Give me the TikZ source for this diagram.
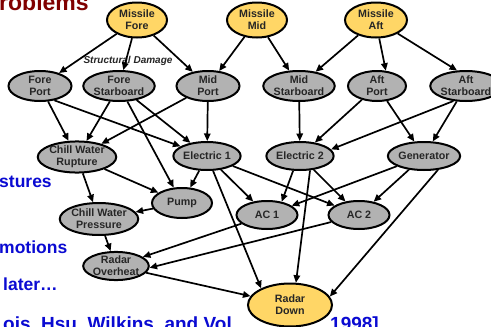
\documentclass[tikz,border=0pt]{standalone}
\usepackage{fontspec}
\setmainfont{Liberation Sans}
\usetikzlibrary{shapes.geometric,arrows.meta}
\definecolor{nodegray}{RGB}{178,178,178}
\definecolor{nodeyel}{RGB}{255,214,102}
\definecolor{slideblue}{RGB}{10,10,210}
\definecolor{slidered}{RGB}{128,0,0}
\begin{document}
\begin{tikzpicture}[x=1pt,y=-1pt,
  ev/.style={ellipse,draw=black,line width=2pt,inner sep=0pt,align=center,
    font=\fontsize{10.7}{12}\selectfont\bfseries,text=black!85},
  gnode/.style={ev,fill=nodegray},
  ynode/.style={ev,fill=nodeyel},
  arr/.style={line width=1.7pt,-{Triangle[length=7.5pt,width=6.5pt]}},
  slide/.style={anchor=base west,inner sep=0pt,font=\fontsize{17.5}{18}\selectfont\bfseries,text=slideblue},
]
\useasboundingbox (0,0) rectangle (491,327);
\clip (0,0) rectangle (491,327);
\fill[white] (0,0) rectangle (491,327);

% slide texts
\node[anchor=base west,inner sep=0pt,font=\fontsize{23}{23}\selectfont\bfseries,text=slidered] (title) at (-1,10) {roblems};
\node[slide] (t1) at (-1,187) {stures};
\node[slide] (t2) at (-1,253) {motions};
\node[slide] (t3) at (3,290) {later…};
\node[slide,font=\fontsize{19}{19}\selectfont\bfseries] (t4) at (3,330) {ois, Hsu, Wilkins, and Vol};
\node[slide,anchor=base east,font=\fontsize{19}{19}\selectfont\bfseries] (t5) at (379,330) {, 1998]};

\node[inner sep=0pt,font=\fontsize{10}{10}\selectfont\bfseries\itshape,text=black!85] (sd) at (128,61) {Structural Damage};

% nodes
\node[ynode,minimum width=60,minimum height=35] (MF) at (137,20) {Missile\\Fore};
\node[ynode,minimum width=60,minimum height=35] (MM) at (257,20) {Missile\\Mid};
\node[ynode,minimum width=62,minimum height=35] (MA) at (376,20) {Missile\\Aft};

\node[gnode,minimum width=63,minimum height=30] (FP) at (40,86) {Fore\\Port};
\node[gnode,minimum width=58,minimum height=30] (FS) at (119,86) {Fore\\Starboard};
\node[gnode,minimum width=63,minimum height=30] (MP) at (208,86) {Mid\\Port};
\node[gnode,minimum width=60,minimum height=30] (MS) at (299,86) {Mid\\Starboard};
\node[gnode,minimum width=58,minimum height=30] (AP) at (377,86) {Aft\\Port};
\node[gnode,minimum width=60,minimum height=30] (AS) at (466,86) {Aft\\Starboard};

\node[gnode,minimum width=61,minimum height=29] (CWR) at (77,157) {Chill Water\\Rupture};
\node[gnode,minimum width=62,minimum height=28] (E1) at (207,156) {Electric 1};
\node[gnode,minimum width=63,minimum height=28] (E2) at (300,156) {Electric 2};
\node[gnode,minimum width=60,minimum height=28] (GEN) at (424,156) {Generator};

\node[gnode,minimum width=60,minimum height=30] (PUMP) at (182,203) {Pump};
\node[gnode,minimum width=61,minimum height=28] (AC1) at (267,215) {AC 1};
\node[gnode,minimum width=61,minimum height=28] (AC2) at (359,215) {AC 2};
\node[gnode,minimum width=62,minimum height=32] (CWP) at (99,219) {Chill Water\\Pressure};
\node[gnode,minimum width=62,minimum height=28] (RO) at (116,266) {Radar\\Overheat};
\node[ynode,minimum width=84,minimum height=43] (RD) at (290,305) {Radar\\Down};

% edges
\draw[arr] (MF) -- (FP);
\draw[arr] (MF) -- (FS);
\draw[arr] (MF) -- (MP);
\draw[arr] (MM) -- (MP);
\draw[arr] (MM) -- (MS);
\draw[arr] (MA) -- (MS);
\draw[arr] (MA.-80) -- (AP.60);
\draw[arr] (MA) -- (AS.120);

\draw[arr] (FP) -- (CWR);
\draw[arr] (FP.-45) -- (E1.160);
\draw[arr] (FS) -- (CWR);
\draw[arr] (FS) -- (PUMP);
\draw[arr] (FS) -- (E1);
\draw[arr] (MP) -- (CWR);
\draw[arr] (MP) -- (E1);
\draw[arr] (MS) -- (E2);
\draw[arr] (AP) -- (E2);
\draw[arr] (AP) -- (GEN);
\draw[arr] (AS.-130) -- (E2.12);
\draw[arr] (AS) -- (GEN);

\draw[arr] (CWR) -- (CWP);
\draw[arr] (CWR) -- (PUMP);
\draw[arr] (E1) -- (PUMP);
\draw[arr] (E1) -- (AC1);
\draw[arr] (E1) -- (AC2);
\draw[arr] (E1) -- (RD.150);
\draw[arr] (E2.-115) -- (AC1.42);
\draw[arr] (E2) -- (AC2);
\draw[arr] (E2.-55) -- (RD.75);
\draw[arr] (GEN) -- (AC1);
\draw[arr] (GEN) -- (AC2);
\draw[arr] (GEN.-45) -- (RD.12);

\draw[arr] (PUMP) -- (CWP);
\draw[arr] (CWP) -- (RO);
\draw[arr] (AC1) -- (RO);
\draw[arr] (AC2) -- (RO.-3);
\draw[arr] (RO) -- (RD);
\end{tikzpicture}
\end{document}
